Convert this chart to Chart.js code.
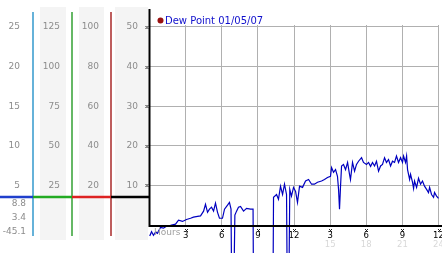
<!DOCTYPE html>
<html>
<head>
<meta charset="utf-8">
<script src="https://cdn.jsdelivr.net/npm/chart.js@4"></script>
<style>
  html, body { margin: 0; padding: 0; background: #fff; }
</style>
</head>
<body>
<canvas id="dewChart" width="442" height="253"></canvas>
<script>
// readings over the day, hours since midnight
const hours = [
  0.02, 0.17, 0.33, 0.5, 0.66, 0.91, 1.16, 1.41, 1.74, 2.16, 2.41, 2.74, 3.07, 3.41, 3.65, 3.99,
  4.24, 4.49, 4.65, 4.82, 4.98, 5.15, 5.32, 5.48, 5.65, 5.81, 6.06, 6.23, 6.48, 6.64, 6.77, 6.89,
  7.09, 7.23, 7.39, 7.56, 7.81, 8.06, 8.39, 8.6, 8.68, 9.05, 9.47, 9.88, 10.21, 10.3, 10.55, 10.71,
  10.88, 11.05, 11.21, 11.38, 11.5, 11.65, 11.79, 11.96, 12.13, 12.29, 12.46, 12.71, 12.96, 13.21,
  13.46, 13.7, 13.95, 14.29, 14.53, 14.78, 15.03, 15.12, 15.28, 15.45, 15.61, 15.7, 15.78, 15.86,
  15.95, 16.11, 16.28, 16.45, 16.61, 16.69, 16.86, 17.03, 17.19, 17.36, 17.61, 17.77, 18.02, 18.19,
  18.36, 18.52, 18.69, 18.85, 19.02, 19.19, 19.35, 19.52, 19.68, 19.85, 20.02, 20.18, 20.35, 20.51,
  20.68, 20.85, 21.01, 21.1, 21.26, 21.35, 21.43, 21.6, 21.68, 21.84, 21.93, 22.01, 22.18, 22.34,
  22.51, 22.67, 22.84, 23.01, 23.17, 23.26, 23.42, 23.59, 23.67, 23.84, 24.0
];
const dewPoint = [
  -2.8, -1.7, -2.6, -1.8, -2.1, -0.6, -0.8, -0.3, -0.1, 0.2, 1.2, 0.9, 1.4, 1.7, 2.0, 2.2,
  2.3, 3.5, 5.2, 3.2, 4.0, 4.5, 3.5, 5.5, 3.2, 1.7, 1.7, 4.0, 5.0, 5.7, 4.0, -40,
  2.5, 3.5, 4.5, 4.7, 3.5, 4.2, 4.0, 4.0, -40, -42, -44, -45.1, -40, 7.0, 7.7, 6.5,
  9.8, 7.7, 10.3, 7.7, -40, 9.0, 7.3, 9.5, 8.5, 5.7, 9.8, 9.5, 11.1, 11.5,
  10.3, 10.3, 10.8, 11.1, 11.5, 12.0, 12.3, 14.5, 13.3, 14.0, 12.3, 9.0, 4.0, 9.5,
  14.9, 15.3, 14.0, 15.8, 12.8, 11.5, 15.8, 13.6, 15.3, 16.1, 17.0, 15.8, 15.3, 15.8,
  14.8, 15.8, 14.9, 16.1, 13.6, 14.9, 15.3, 17.0, 15.8, 16.5, 14.9, 16.1, 15.8, 17.4,
  15.8, 17.0, 15.8, 17.4, 15.8, 17.4, 14.0, 11.5, 12.8, 10.8, 9.2, 11.1, 9.5, 11.8,
  10.3, 11.1, 9.8, 9.0, 8.2, 9.5, 7.7, 7.0, 8.2, 7.3, 6.7
];

const hourTicks = [3, 6, 9, 12, 15, 18, 21, 24];
const hourLabels = ['3', '6', '9', '12', '3', '6', '9', '12'];
const clockLabels = ['', '', '', '', '15', '18', '21', '24'];

const leftTicks1 = [5, 10, 15, 20, 25];
const leftTicks2 = [25, 50, 75, 100, 125];
const leftTicks3 = [20, 40, 60, 80, 100];
const mainTicks = [10, 20, 30, 40, 50];

const statLabels = ['8.8', '3.4', '-45.1'];
const markerValue = 7.1;
const legendLabel = 'Dew Point 01/05/07';

const TOP = 50.5;
const labelFont = { family: 'DejaVu Sans', size: 9 };
const hourFont = { family: 'DejaVu Sans', size: 8.5 };
const grey = '#8c8c8c';

function leftAxis(ticksArr, factor, width, weight, pad) {
  return {
    type: 'linear',
    position: 'left',
    weight: weight,
    min: 0,
    max: TOP * factor,
    grid: { display: false, drawTicks: false },
    border: { display: false },
    afterBuildTicks: s => { s.ticks = ticksArr.map(v => ({ value: v })); },
    afterFit: s => { s.width = width; },
    ticks: { color: grey, font: labelFont, padding: pad }
  };
}

function markAt(ctx, x, y) {
  ctx.fillRect(x - 1, y - 1, 1, 1);
  ctx.fillRect(x + 1, y - 1, 1, 1);
  ctx.fillRect(x, y, 1, 1);
  ctx.fillRect(x - 1, y + 1, 1, 1);
  ctx.fillRect(x + 1, y + 1, 1, 1);
}

const decor = {
  id: 'decor',
  beforeDraw(chart) {
    const { ctx, scales } = chart;
    ctx.save();
    ctx.fillStyle = '#f4f4f4';
    [['y2', 7, 6], ['y3', 7, 7], ['y', 4, 1.5]].forEach(([id, a, b]) => {
      const s = scales[id];
      ctx.fillRect(s.left + a, 7, s.right - s.left - a - b, 233);
    });
    ctx.restore();
  },
  afterDraw(chart) {
    const { ctx, scales, chartArea } = chart;
    const ys = scales.y, xs = scales.x;
    ctx.save();

    // coloured column rules
    const rules = [['y1', '#3399cc'], ['y2', '#33a033'], ['y3', '#a82828']];
    rules.forEach(([id, c]) => {
      ctx.strokeStyle = c;
      ctx.lineWidth = 1.5;
      ctx.beginPath();
      ctx.moveTo(scales[id].right, 12);
      ctx.lineTo(scales[id].right, 236);
      ctx.stroke();
    });
    ctx.strokeStyle = '#000';
    ctx.lineWidth = 2;
    ctx.beginPath();
    ctx.moveTo(chartArea.left, 9);
    ctx.lineTo(chartArea.left, chartArea.bottom + 1);
    ctx.lineTo(chart.width, chartArea.bottom + 1);
    ctx.stroke();

    // current value marker across the columns
    const my = ys.getPixelForValue(markerValue);
    const segs = [[0, scales.y1.right, '#1f3fcc'], [scales.y1.right, scales.y2.right, '#22aa22'],
                  [scales.y2.right, scales.y3.right, '#dd2222'], [scales.y3.right, chartArea.left, '#000']];
    ctx.lineWidth = 2.5;
    segs.forEach(([a, b, c]) => {
      ctx.strokeStyle = c;
      ctx.beginPath();
      ctx.moveTo(a, my);
      ctx.lineTo(b, my);
      ctx.stroke();
    });

    // tick marks
    ctx.fillStyle = '#222';
    mainTicks.forEach(v => markAt(ctx, chartArea.left - 3, Math.round(ys.getPixelForValue(v))));
    hourTicks.forEach(h => markAt(ctx, Math.round(xs.getPixelForValue(h)), 230));

    // stats under the marker
    ctx.font = '9px "DejaVu Sans"';
    ctx.fillStyle = grey;
    ctx.textAlign = 'right';
    ctx.textBaseline = 'middle';
    statLabels.forEach((t, i) => ctx.fillText(t, 26, 204 + i * 14));

    ctx.textAlign = 'left';
    ctx.fillStyle = '#a0a0a0';
    ctx.fillText('Hours', 154, 233);

    // legend
    ctx.fillStyle = '#991111';
    ctx.beginPath();
    ctx.arc(160.5, 20.5, 3, 0, Math.PI * 2);
    ctx.fill();
    ctx.font = '10px "DejaVu Sans"';
    ctx.fillStyle = '#1010cc';
    ctx.fillText(legendLabel, 165, 21);
    ctx.restore();
  }
};

const ctx = document.getElementById('dewChart').getContext('2d');
const dewChart = new Chart(ctx, {
  type: 'line',
  data: {
    datasets: [{
      label: legendLabel,
      data: hours.map((h, i) => ({ x: h, y: dewPoint[i] })),
      borderColor: '#0000c0',
      borderWidth: 1.2,
      pointRadius: 0,
      tension: 0,
      fill: false,
      clip: false,
      yAxisID: 'y'
    }]
  },
  options: {
    responsive: false,
    animation: false,
    devicePixelRatio: 1,
    layout: { padding: { top: 25, right: 3.5, left: 0, bottom: 0 } },
    plugins: { legend: { display: false }, tooltip: { enabled: false } },
    scales: {
      x: {
        type: 'linear',
        position: 'bottom',
        weight: 0,
        min: 0,
        max: 24,
        grid: { color: '#b0b0b0', drawTicks: false },
        border: { display: false },
        afterBuildTicks: s => { s.ticks = hourTicks.map(v => ({ value: v })); },
        afterFit: s => { s.height = 15; s.paddingLeft = 0; s.paddingRight = 0; },
        ticks: {
          color: '#000', font: hourFont, padding: 6, maxRotation: 0, autoSkip: false,
          callback: (v, i) => hourLabels[i]
        }
      },
      x2: {
        type: 'linear',
        position: 'bottom',
        weight: 1,
        min: 0,
        max: 24,
        grid: { display: false, drawTicks: false },
        border: { display: false },
        afterBuildTicks: s => { s.ticks = hourTicks.map(v => ({ value: v })); },
        afterFit: s => { s.height = 13; s.paddingLeft = 0; s.paddingRight = 0; },
        ticks: {
          color: '#d8d8d8', font: hourFont, padding: 0, maxRotation: 0, autoSkip: false,
          callback: (v, i) => clockLabels[i]
        }
      },
      y1: leftAxis(leftTicks1, 0.5, 33, 4, 13),
      y2: leftAxis(leftTicks2, 2.5, 39, 3, 12),
      y3: leftAxis(leftTicks3, 2, 39, 2, 12),
      y: {
        type: 'linear',
        position: 'left',
        weight: 1,
        min: 0,
        max: TOP,
        grid: { color: '#b0b0b0', drawTicks: false },
        border: { display: false },
        afterBuildTicks: s => { s.ticks = mainTicks.map(v => ({ value: v })); },
        afterFit: s => { s.width = 38.5; },
        ticks: { color: grey, font: labelFont, padding: 11.5 }
      }
    }
  },
  plugins: [decor]
});
</script>
</body>
</html>
